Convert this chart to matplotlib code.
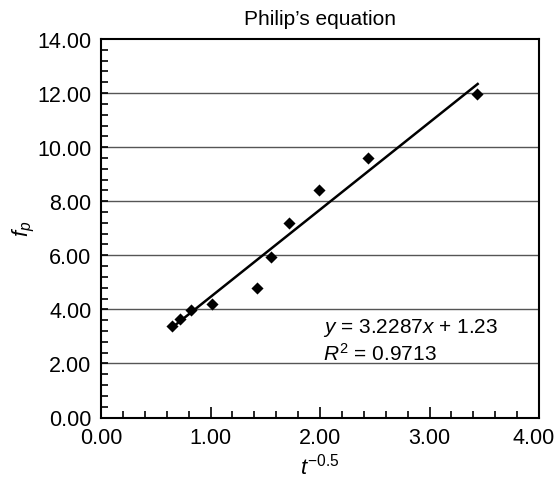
import matplotlib
matplotlib.use("Agg")
import matplotlib.pyplot as plt
import matplotlib.transforms as mtransforms
import numpy as np
from matplotlib.ticker import MultipleLocator, FormatStrFormatter

plt.rcParams['font.family'] = ['Liberation Sans', 'DejaVu Sans']
plt.rcParams['mathtext.fontset'] = 'custom'
plt.rcParams['mathtext.rm'] = 'Liberation Sans'
plt.rcParams['mathtext.it'] = 'Liberation Sans:italic'

# data
t_inv = [0.645, 0.718, 0.818, 1.015, 1.424, 1.552, 1.72, 1.994, 2.439, 3.43]
fp = [3.38, 3.63, 3.99, 4.19, 4.80, 5.95, 7.20, 8.40, 9.58, 11.95]
slope = 3.2287
intercept = 1.23
r2 = 0.9713

fig = plt.figure(figsize=(5.58, 4.81), dpi=100)
ax = fig.add_axes([101/558, 1 - 418.5/481, 438/558, 378.5/481])

ax.set_xlim(0, 4)
ax.set_ylim(0, 14)

for yv in np.arange(2, 14, 2):
    ax.axhline(yv, color='#555555', lw=1.0, zorder=1)

ax.scatter(t_inv, fp, marker='D', s=38, color='black', zorder=3, linewidths=0)
xl = np.array([min(t_inv), max(t_inv) + 0.01])
ax.plot(xl, slope * xl + intercept, color='black', lw=1.8, zorder=2)

ax.xaxis.set_major_locator(MultipleLocator(1))
ax.xaxis.set_minor_locator(MultipleLocator(0.2))
ax.yaxis.set_major_locator(MultipleLocator(2))
ax.yaxis.set_minor_locator(MultipleLocator(0.4))
ax.xaxis.set_major_formatter(FormatStrFormatter('%.2f'))
ax.yaxis.set_major_formatter(FormatStrFormatter('%.2f'))
ax.tick_params(which='major', direction='in', length=8, width=1.2, labelsize=15.5, pad=7)
ax.tick_params(which='minor', direction='in', length=5, width=1.2)
ax.tick_params(axis='y', which='major', length=5)
for s in ax.spines.values():
    s.set_linewidth(1.5)

ax.set_title("Philip\u2019s equation", fontsize=15, pad=11)
ax.set_xlabel(r"$t^{-0.5}$", fontsize=16, labelpad=3)
ax.set_ylabel(r"$f_p$", fontsize=16)
ax.yaxis.set_label_coords(-0.145, 0.5)

ax.text(2.03, 3.15, r"$y$ = 3.2287$x$ + 1.23", fontsize=15)
ax.text(2.03, 2.15, r"$R^2$ = 0.9713", fontsize=15)

fig.canvas.draw()
for tick in ax.xaxis.get_major_ticks():
    if abs(tick.get_loc() - 4.0) < 1e-6:
        lab = tick.label1
        lab.set_transform(lab.get_transform() +
                          mtransforms.ScaledTranslation(-4/72, 0, fig.dpi_scale_trans))

fig.savefig("out.png", dpi=100)
